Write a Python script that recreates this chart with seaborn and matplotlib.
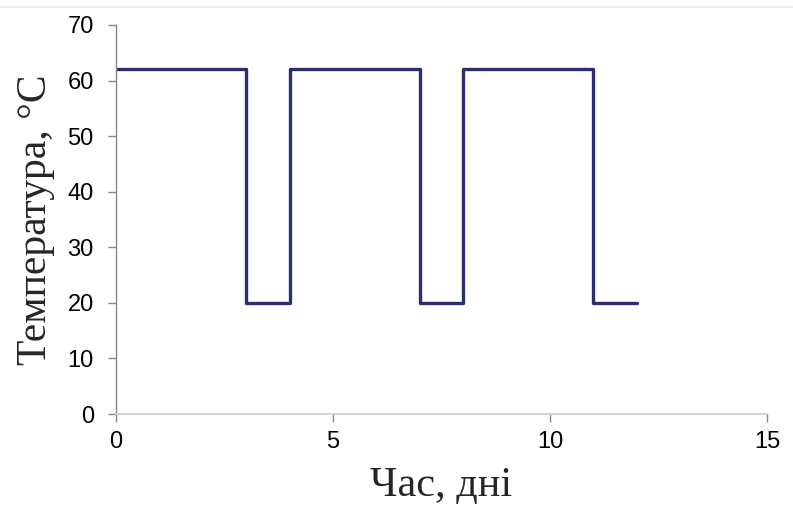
import matplotlib
matplotlib.use("Agg")
import matplotlib.pyplot as plt
from matplotlib.lines import Line2D
import seaborn as sns
import pandas as pd

days = [0, 3, 4, 7, 8, 11, 12]
temperature = [62, 20, 62, 20, 62, 20, 20]
x_ticks = [0, 5, 10, 15]
y_ticks = [0, 10, 20, 30, 40, 50, 60, 70]

sns.set_style("white")
plt.rcParams['font.family'] = ['Liberation Sans', 'DejaVu Sans']

df = pd.DataFrame({"day": days, "temp": temperature})

fig = plt.figure(figsize=(7.93, 5.08), dpi=100)
ax = fig.add_axes([0.1463, 0.185, 0.8209, 0.7658])
sns.lineplot(data=df, x="day", y="temp", ax=ax, drawstyle="steps-post",
             color="#2B2F6E", linewidth=2.4, estimator=None)

ax.set_xlim(0, 15)
ax.set_ylim(0, 70)
ax.set_xticks(x_ticks)
ax.set_yticks(y_ticks)
ax.tick_params(axis="both", labelsize=17, colors="#868686", length=6, width=1,
               labelcolor="black", direction="out", bottom=True, left=True)
ax.tick_params(axis="x", pad=6)
ax.tick_params(axis="y", pad=10)
for s in ["top", "right"]:
    ax.spines[s].set_visible(False)
ax.spines["left"].set_color("#868686")
ax.spines["bottom"].set_color("#d0d0d0")
ax.spines["left"].set_linewidth(1)
ax.spines["bottom"].set_linewidth(1.3)

ax.set_xlabel("Час, дні", fontsize=30.5, family=["Liberation Serif", "DejaVu Serif"], labelpad=10)
ax.set_ylabel("Температура, °C", fontsize=30, family=["Liberation Serif", "DejaVu Serif"], labelpad=9)

fig.add_artist(Line2D([0, 1], [0.986, 0.986], color="#eeeeee", linewidth=1.5))

fig.savefig("out.png", dpi=100)
